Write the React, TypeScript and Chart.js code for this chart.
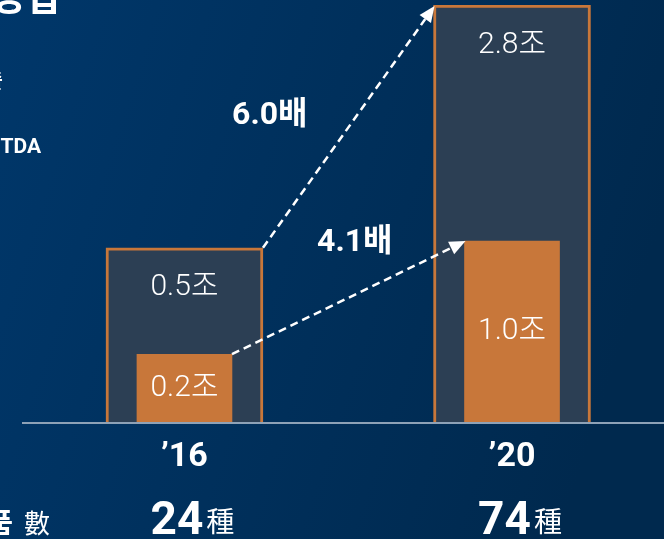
import { useEffect, useRef } from "react";
import { Chart, registerables } from "chart.js";

Chart.register(...registerables);

// ---- data ----
const categories = ["’16", "’20"];
const xPositions = [0, 1];
const productCounts = ["24", "74"];
const productUnit = "種";
const revenueLabels = ["0.5조", "2.8조"];
const ebitdaLabels = ["0.2조", "1.0조"];
// bar heights as drawn in the picture (the original is not drawn to scale)
const revenueHeights = [1.17, 2.8];
const ebitdaHeights = [0.455, 1.215];
const growthLabels = ["6.0배", "4.1배"];
const sideLabels = ["매출", "EBITDA"];
const headingText = "영업";
const productRowLabel = "제품";
const productRowSuffix = "數";

const ORANGE = "#c8773a";
const FONT = "Roboto, 'Noto Sans CJK KR', sans-serif";

function drawArrow(ctx: CanvasRenderingContext2D, x1: number, y1: number, x2: number, y2: number) {
  const ang = Math.atan2(y2 - y1, x2 - x1);
  const head = 16;
  const hw = 7;
  const bx = x2 - head * Math.cos(ang);
  const by = y2 - head * Math.sin(ang);
  ctx.save();
  ctx.strokeStyle = "#ffffff";
  ctx.fillStyle = "#ffffff";
  ctx.lineWidth = 2.5;
  ctx.setLineDash([8, 5]);
  ctx.beginPath();
  ctx.moveTo(x1, y1);
  ctx.lineTo(bx, by);
  ctx.stroke();
  ctx.setLineDash([]);
  ctx.beginPath();
  ctx.moveTo(x2, y2);
  ctx.lineTo(bx + hw * Math.sin(ang), by - hw * Math.cos(ang));
  ctx.lineTo(bx - hw * Math.sin(ang), by + hw * Math.cos(ang));
  ctx.closePath();
  ctx.fill();
  ctx.restore();
}

const decorPlugin = {
  id: "decor",
  beforeDraw(chart: any) {
    const { ctx, width, height } = chart;
    const g = ctx.createLinearGradient(0, 0, width, height * 0.4);
    g.addColorStop(0, "#00376a");
    g.addColorStop(1, "#00294e");
    ctx.save();
    ctx.fillStyle = g;
    ctx.fillRect(0, 0, width, height);
    ctx.restore();
  },
  beforeDatasetsDraw(chart: any) {
    const { ctx, chartArea, width } = chart;
    ctx.save();
    ctx.strokeStyle = "#8ea2b7";
    ctx.lineWidth = 2;
    ctx.beginPath();
    ctx.moveTo(chartArea.left, chartArea.bottom + 1);
    ctx.lineTo(width, chartArea.bottom + 1);
    ctx.stroke();
    ctx.restore();
  },
  afterDatasetsDraw(chart: any) {
    const { ctx, chartArea } = chart;
    const xScale = chart.scales.x;
    const ebMeta = chart.getDatasetMeta(0);
    const revMeta = chart.getDatasetMeta(1);
    ctx.save();
    ctx.fillStyle = "#ffffff";
    ctx.textAlign = "center";
    ctx.textBaseline = "middle";

    // value labels
    ctx.font = `300 30px ${FONT}`;
    revMeta.data.forEach((el: any, i: number) => {
      ctx.fillText(revenueLabels[i], el.x, el.y + 40);
    });
    ebMeta.data.forEach((el: any, i: number) => {
      ctx.fillText(ebitdaLabels[i], el.x, (el.y + el.base) / 2);
    });

    // arrows
    const r0 = revMeta.data[0], r1 = revMeta.data[1];
    const e0 = ebMeta.data[0], e1 = ebMeta.data[1];
    const a1 = [r0.x + r0.width / 2, r0.y, r1.x - r1.width / 2 + 1, r1.y + 1];
    const a2 = [e0.x + e0.width / 2, e0.y, e1.x - e1.width / 2 + 1, e1.y];
    drawArrow(ctx, a1[0], a1[1], a1[2], a1[3]);
    drawArrow(ctx, a2[0], a2[1], a2[2], a2[3]);

    ctx.font = `bold 32px ${FONT}`;
    ctx.fillText(growthLabels[0], (a1[0] + a1[2]) / 2 - 79, (a1[1] + a1[3]) / 2 - 11);
    ctx.fillText(growthLabels[1], (a2[0] + a2[2]) / 2 + 6, (a2[1] + a2[3]) / 2 - 55);

    // category labels
    categories.forEach((c, i) => {
      const x = xScale.getPixelForValue(xPositions[i]);
      ctx.textAlign = "center";
      ctx.textBaseline = "middle";
      ctx.font = `bold 34px ${FONT}`;
      ctx.fillText(c, x, chartArea.bottom + 35);

      // product counts
      ctx.textBaseline = "alphabetic";
      ctx.font = `bold 46px ${FONT}`;
      const w1 = ctx.measureText(productCounts[i]).width;
      ctx.font = `28px ${FONT}`;
      const w2 = ctx.measureText(productUnit).width;
      const total = w1 + 3 + w2;
      const sx = x + 8 - total / 2;
      ctx.textAlign = "left";
      ctx.font = `bold 46px ${FONT}`;
      ctx.fillText(productCounts[i], sx, chartArea.bottom + 112);
      ctx.font = `28px ${FONT}`;
      ctx.fillText(productUnit, sx + w1 + 3, chartArea.bottom + 110);
    });

    // cut-off side texts
    ctx.textAlign = "right";
    ctx.textBaseline = "alphabetic";
    ctx.font = `bold 38px ${FONT}`;
    ctx.fillText(headingText, 60, 10);
    ctx.font = `bold 20px ${FONT}`;
    ctx.fillText(sideLabels[0], 3, 88);
    ctx.font = `bold 21px ${FONT}`;
    ctx.fillText(sideLabels[1], 41, 153);
    ctx.font = `bold 28px ${FONT}`;
    ctx.fillText(productRowLabel, 13, 533);
    ctx.textAlign = "left";
    ctx.font = `26px ${FONT}`;
    ctx.fillText(productRowSuffix, 24, 533);
    ctx.restore();
  },
};

export default function App() {
  const ref = useRef<HTMLCanvasElement>(null);
  useEffect(() => {
    if (!ref.current) return;
    const chart = new Chart(ref.current, {
      type: "bar",
      data: {
        datasets: [
          {
            label: "EBITDA",
            data: xPositions.map((x, i) => ({ x, y: ebitdaHeights[i] })),
            backgroundColor: ORANGE,
            borderWidth: 0,
            barThickness: 95,
            grouped: false,
            order: 0,
          } as any,
          {
            label: "매출",
            data: xPositions.map((x, i) => ({ x, y: revenueHeights[i] })),
            backgroundColor: "#2c3f54",
            borderColor: ORANGE,
            borderWidth: 3,
            barThickness: 157,
            grouped: false,
            order: 1,
          } as any,
        ],
      },
      options: {
        animation: false,
        responsive: false,
        maintainAspectRatio: false,
        layout: { padding: { left: 22, right: 0, top: 5, bottom: 117 } },
        plugins: { legend: { display: false }, tooltip: { enabled: false } },
        scales: {
          x: { type: "linear", min: -0.496, max: 1.464, offset: false, display: false },
          y: { min: 0, max: 2.8, display: false },
        },
      },
      plugins: [decorPlugin],
    });
    return () => chart.destroy();
  }, []);
  return (
    <div style={{ position: "fixed", left: 0, top: 0, width: 664, height: 539 }}>
      <canvas ref={ref} width={664} height={539} style={{ display: "block" }} />
    </div>
  );
}
